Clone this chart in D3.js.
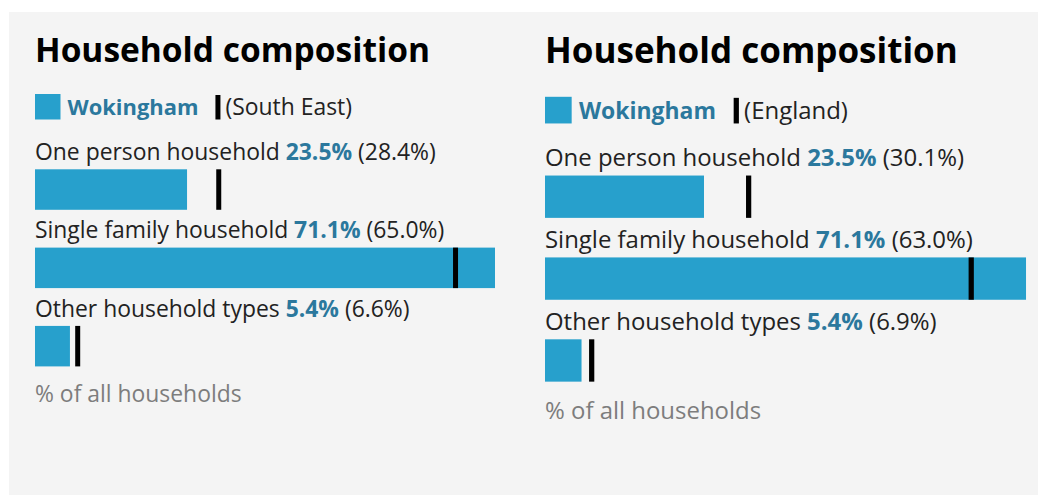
<!DOCTYPE html>
<html>
<head>
<meta charset="utf-8">
<script src="https://cdn.jsdelivr.net/npm/d3@7"></script>
<style>
  html, body { margin: 0; padding: 0; background: #ffffff; }
  svg { display: block; font-family: "Open Sans", sans-serif; }
</style>
</head>
<body>
<svg id="chart" width="1038" height="495"></svg>
<script>
// ---- data ----
const title = "Household composition";
const areaName = "Wokingham";
const categories = ["One person household", "Single family household", "Other household types"];
const areaValues = [23.5, 71.1, 5.4];
const comparisonNames = ["South East", "England"];
const southEastValues = [28.4, 65.0, 6.6];
const englandValues = [30.1, 63.0, 6.9];
const footerText = "% of all households";

// ---- styles ----
const barColor = "#27a0cc";
const valueColor = "#2b789d";
const textColor = "#222222";
const markerColor = "#000000";
const footColor = "#7d7d7d";

const svg = d3.select("#chart");
svg.append("rect").attr("x", 9).attr("y", 12).attr("width", 1038 - 9).attr("height", 495 - 12).attr("fill", "#f4f4f4");

function fitSize(text, weight, targetWidth) {
  const t = svg.append("text").attr("font-size", 100).attr("font-weight", weight).text(text);
  const w = t.node().getComputedTextLength();
  t.remove();
  return 100 * targetWidth / w;
}
const titleSize = fitSize(title, 700, 395);
const legendSize = fitSize(areaName, 700, 131);
function lineWidthAt(size, i, comp) {
  const t = svg.append("text").attr("font-size", size);
  t.append("tspan").text(categories[i] + " ");
  t.append("tspan").attr("font-weight", 700).text(d3.format(".1f")(areaValues[i]) + "%");
  t.append("tspan").text(" (" + d3.format(".1f")(comp[i]) + "%)");
  const w = t.node().getComputedTextLength();
  t.remove();
  return w;
}
const bodySize = 100 * 401 / lineWidthAt(100, 0, southEastValues);

function drawChart(g, compName, compValues) {
  const x = d3.scaleLinear().domain([0, d3.max(areaValues)]).range([35, 495]);
  const y = d3.scaleBand().domain(categories).range([169.3, 366.4]).paddingInner(0.483).paddingOuter(0);

  g.append("text").attr("x", 35).attr("y", 62)
    .attr("font-size", titleSize).attr("font-weight", 700).attr("fill", "#000").text(title);

  // legend
  g.append("rect").attr("x", 35).attr("y", 94).attr("width", 25.5).attr("height", 25.5).attr("fill", barColor);
  const lw = g.append("text").attr("x", 67.5).attr("y", 115).attr("font-size", legendSize)
    .attr("font-weight", 700).attr("fill", valueColor).text(areaName);
  const lwEnd = 67.5 + lw.node().getComputedTextLength();
  g.append("rect").attr("x", lwEnd + 17).attr("y", 95).attr("width", 5).attr("height", 24.5).attr("fill", markerColor);
  g.append("text").attr("x", lwEnd + 27).attr("y", 115).attr("font-size", bodySize)
    .attr("fill", textColor).text("(" + compName + ")");

  const rows = g.selectAll("g.row").data(categories.map((c, i) => ({ c, v: areaValues[i], cmp: compValues[i] })))
    .join("g").attr("class", "row");

  const lbl = rows.append("text").attr("x", 35).attr("y", d => y(d.c) - 9.3)
    .attr("font-size", bodySize).attr("fill", textColor);
  lbl.append("tspan").text(d => d.c + " ");
  lbl.append("tspan").attr("font-weight", 700).attr("fill", valueColor).text(d => d3.format(".1f")(d.v) + "%");
  lbl.append("tspan").text(d => " (" + d3.format(".1f")(d.cmp) + "%)");

  rows.append("rect").attr("x", x(0)).attr("y", d => y(d.c))
    .attr("width", d => x(d.v) - x(0)).attr("height", y.bandwidth()).attr("fill", barColor);
  rows.append("rect").attr("x", d => x(d.cmp) - 2.5).attr("y", d => y(d.c))
    .attr("width", 5).attr("height", y.bandwidth()).attr("fill", markerColor);

  g.append("text").attr("x", 35).attr("y", 401.7).attr("font-size", bodySize)
    .attr("fill", footColor).text(footerText);
}

drawChart(svg.append("g"), comparisonNames[0], southEastValues);
drawChart(svg.append("g").attr("transform", "translate(508.4,-1.5) scale(1.0457)"), comparisonNames[1], englandValues);
</script>
</body>
</html>
